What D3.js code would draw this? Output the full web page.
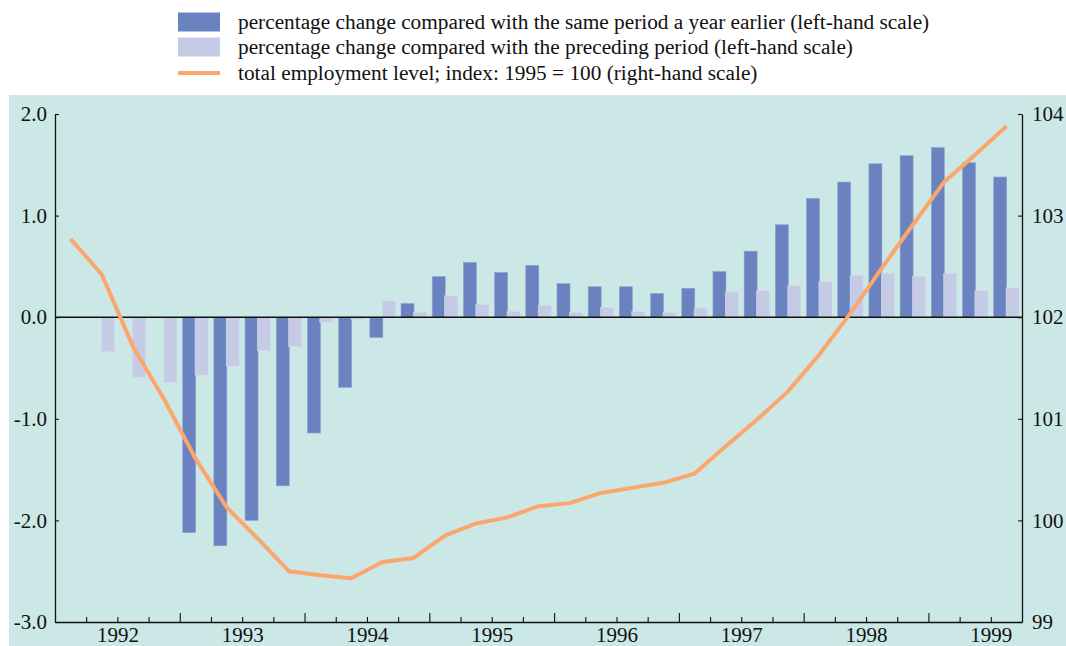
<!DOCTYPE html>
<html>
<head>
<meta charset="utf-8">
<script src="https://cdn.jsdelivr.net/npm/d3@7"></script>
<style>
  html, body { margin: 0; padding: 0; background: #ffffff; }
  svg { display: block; }
  text { font-family: "Liberation Serif", "Times New Roman", serif; fill: #111; }
</style>
</head>
<body>
<svg id="chart" width="1066" height="646"></svg>
<script>
// ---- data ----
const quarters = [
  "1992Q1","1992Q2","1992Q3","1992Q4",
  "1993Q1","1993Q2","1993Q3","1993Q4",
  "1994Q1","1994Q2","1994Q3","1994Q4",
  "1995Q1","1995Q2","1995Q3","1995Q4",
  "1996Q1","1996Q2","1996Q3","1996Q4",
  "1997Q1","1997Q2","1997Q3","1997Q4",
  "1998Q1","1998Q2","1998Q3","1998Q4",
  "1999Q1","1999Q2","1999Q3"
];
// percentage change vs same period a year earlier (left-hand scale)
const yoyChange = [
  null, null, null, null,
  -2.12, -2.25, -2.00, -1.66,
  -1.14, -0.69, -0.20, 0.135,
  0.40, 0.54, 0.44, 0.51,
  0.33, 0.30, 0.30, 0.235,
  0.285, 0.45, 0.65, 0.91,
  1.17, 1.33, 1.51, 1.59,
  1.67, 1.52, 1.38
];
// percentage change vs preceding period (left-hand scale)
const qoqChange = [
  null, -0.34, -0.59, -0.64,
  -0.57, -0.48, -0.33, -0.29,
  -0.05, -0.02, 0.16, 0.05,
  0.21, 0.125, 0.055, 0.115,
  0.045, 0.095, 0.055, 0.045,
  0.09, 0.25, 0.26, 0.31,
  0.35, 0.41, 0.43, 0.40,
  0.43, 0.26, 0.29
];
// total employment level, index 1995 = 100 (right-hand scale)
const employmentIndex = [
  102.77, 102.42, 101.71, 101.19,
  100.61, 100.13, 99.82, 99.50,
  99.46, 99.43, 99.59, 99.63,
  99.85, 99.97, 100.03, 100.14,
  100.17, 100.27, 100.32, 100.37,
  100.46, 100.73, 100.99, 101.27,
  101.63, 102.04, 102.48, 102.91,
  103.33, 103.60, 103.88
];
const yearLabels = ["1992","1993","1994","1995","1996","1997","1998","1999"];
const leftTicks = [-3, -2, -1, 0, 1, 2];
const rightTicks = [99, 100, 101, 102, 103, 104];
const legendLabels = [
  "percentage change compared with the same period a year earlier (left-hand scale)",
  "percentage change compared with the preceding period (left-hand scale)",
  "total employment level; index: 1995 = 100 (right-hand scale)"
];

// ---- styles ----
const colDark = "#6a83c0";
const colLight = "#c5cbe4";
const colLine = "#fba66c";
const colBg = "#cbe8e7";

const svg = d3.select("#chart");
const W = 1066, H = 646;
const plot = { left: 55, right: 1022, top: 114, bottom: 622 };

svg.append("rect").attr("x", 9).attr("y", 95).attr("width", W - 9).attr("height", H - 95).attr("fill", colBg);

// scales
const xq = d3.scaleLinear().domain([0, quarters.length]).range([plot.left, plot.right]);
const xBand = d3.scaleBand().domain(quarters).range([plot.left, plot.right]).padding(0);
const yL = d3.scaleLinear().domain([-3, 2]).range([plot.bottom, plot.top]);
const yR = d3.scaleLinear().domain([99, 104]).range([plot.bottom, plot.top]);

const bw = xBand.bandwidth();
const barW = 13;

// bars: year-on-year (dark)
svg.append("g").selectAll("rect")
  .data(quarters.map((q, i) => ({ q, v: yoyChange[i] })).filter(d => d.v !== null))
  .join("rect")
  .attr("x", d => xBand(d.q) + bw / 2 - barW + 0.3)
  .attr("width", barW)
  .attr("y", d => yL(Math.max(0, d.v)))
  .attr("height", d => Math.abs(yL(d.v) - yL(0)))
  .attr("fill", colDark)
  .attr("stroke", "#8fa2d2").attr("stroke-width", 0.6);

// bars: quarter-on-quarter (light)
svg.append("g").selectAll("rect")
  .data(quarters.map((q, i) => ({ q, v: qoqChange[i] })).filter(d => d.v !== null))
  .join("rect")
  .attr("x", d => xBand(d.q) + bw / 2 - 0.3)
  .attr("width", barW)
  .attr("y", d => yL(Math.max(0, d.v)))
  .attr("height", d => Math.abs(yL(d.v) - yL(0)))
  .attr("fill", colLight)
  .attr("stroke", "#d3d8ec").attr("stroke-width", 0.6);

// zero line
svg.append("line")
  .attr("x1", plot.left).attr("x2", plot.right)
  .attr("y1", yL(0)).attr("y2", yL(0))
  .attr("stroke", "#111").attr("stroke-width", 1.4);

// employment line
const line = d3.line()
  .x((d, i) => xBand(quarters[i]) + bw / 2)
  .y(d => yR(d));
svg.append("path")
  .datum(employmentIndex)
  .attr("d", line)
  .attr("fill", "none")
  .attr("stroke", colLine)
  .attr("stroke-width", 4)
  .attr("stroke-linejoin", "round");

// axes
const fontSize = 21;
function styleAxis(g) {
  g.select(".domain").attr("stroke", "#111").attr("stroke-width", 1.3);
  g.selectAll(".tick line").attr("stroke", "#111").attr("stroke-width", 1.1);
  g.selectAll("text").attr("font-size", fontSize).attr("font-family", "Liberation Serif, Times New Roman, serif").attr("fill", "#111");
}

const gL = svg.append("g").attr("transform", `translate(${plot.left},0)`)
  .call(d3.axisLeft(yL).tickValues(leftTicks).tickSize(-4).tickSizeOuter(0).tickPadding(8).tickFormat(d => d.toFixed(1)));
styleAxis(gL);

const gR = svg.append("g").attr("transform", `translate(${plot.right},0)`)
  .call(d3.axisRight(yR).tickValues(rightTicks).tickSize(-4).tickSizeOuter(0).tickPadding(10).tickFormat(d3.format("d")));
styleAxis(gR);

// bottom axis: quarter ticks (minor) and year ticks (major)
const quarterTicks = d3.range(1, quarters.length).filter(i => i % 4 !== 0);
const yearTicks = d3.range(4, quarters.length, 4);
const gBm = svg.append("g").attr("transform", `translate(0,${plot.bottom})`)
  .call(d3.axisBottom(xq).tickValues(quarterTicks).tickSize(-5).tickSizeOuter(0).tickFormat(""));
styleAxis(gBm);
const gBM = svg.append("g").attr("transform", `translate(0,${plot.bottom})`)
  .call(d3.axisBottom(xq).tickValues(yearTicks).tickSize(-9).tickSizeOuter(0).tickFormat(""));
styleAxis(gBM);
gBM.select(".domain").remove();
const gBL = svg.append("g").attr("transform", `translate(0,${plot.bottom})`)
  .call(d3.axisBottom(xq).tickValues(yearLabels.map((y, i) => i * 4 + 2)).tickSize(0).tickPadding(5)
    .tickFormat((d, i) => yearLabels[i]));
styleAxis(gBL);
gBL.select(".domain").remove();

// legend
const legend = svg.append("g");
const lgX = 178, lgW = 42, textX = 238;
const rowsY = [22, 47, 73];
legend.append("rect").attr("x", lgX).attr("y", rowsY[0] - 9.5).attr("width", lgW).attr("height", 19).attr("fill", colDark);
legend.append("rect").attr("x", lgX).attr("y", rowsY[1] - 9.5).attr("width", lgW).attr("height", 19).attr("fill", colLight);
legend.append("line").attr("x1", lgX).attr("x2", lgX + lgW).attr("y1", rowsY[2]).attr("y2", rowsY[2])
  .attr("stroke", colLine).attr("stroke-width", 4);
legend.selectAll("text.lg").data(legendLabels).join("text")
  .attr("class", "lg")
  .attr("x", textX).attr("y", (d, i) => rowsY[i])
  .attr("dy", "0.33em")
  .attr("font-size", 21.3)
  .text(d => d);
</script>
</body>
</html>
